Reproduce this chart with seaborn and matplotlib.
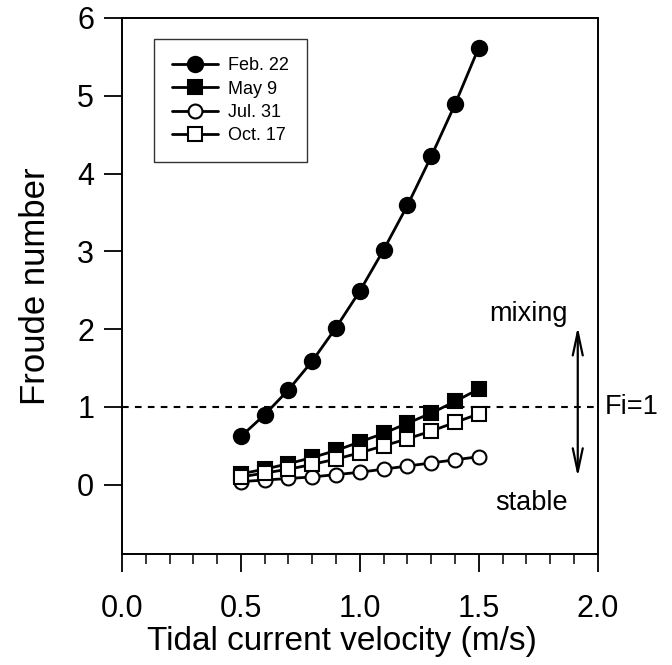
import matplotlib
matplotlib.use("Agg")
import matplotlib.pyplot as plt
import seaborn as sns
import pandas as pd
from matplotlib.ticker import MultipleLocator

sns.set_theme(style="white")
plt.rcParams['font.family'] = ['Liberation Sans', 'DejaVu Sans']
plt.rcParams['text.color'] = 'black'
plt.rcParams['axes.labelcolor'] = 'black'

velocity = [0.5, 0.6, 0.7, 0.8, 0.9, 1.0, 1.1, 1.2, 1.3, 1.4, 1.5]
feb22 = [0.62, 0.90, 1.22, 1.59, 2.02, 2.49, 3.02, 3.59, 4.22, 4.89, 5.62]
may9 = [0.14, 0.20, 0.27, 0.35, 0.44, 0.55, 0.66, 0.79, 0.92, 1.07, 1.23]
jul31 = [0.04, 0.06, 0.08, 0.10, 0.13, 0.16, 0.20, 0.24, 0.28, 0.32, 0.36]
oct17 = [0.10, 0.15, 0.20, 0.26, 0.33, 0.41, 0.50, 0.59, 0.69, 0.80, 0.91]
series_labels = ["Feb. 22", "May 9", "Jul. 31", "Oct. 17"]
x_ticks = [0.0, 0.5, 1.0, 1.5, 2.0]
y_ticks = [0, 1, 2, 3, 4, 5, 6]

fig = plt.figure(figsize=(6.72, 6.65), dpi=100)
ax = fig.add_axes([0.1815, 0.167, 0.708, 0.806])

styles = [
    dict(marker='o', markersize=11, markerfacecolor='black'),
    dict(marker='s', markersize=9.5, markerfacecolor='black'),
    dict(marker='o', markersize=10, markerfacecolor='white'),
    dict(marker='s', markersize=9.5, markerfacecolor='white'),
]
for vals, lab, st in zip([feb22, may9, jul31, oct17], series_labels, styles):
    df = pd.DataFrame({"v": velocity, "F": vals})
    sns.lineplot(data=df, x="v", y="F", ax=ax, color='black', linewidth=2.0,
                 markeredgecolor='black', markeredgewidth=1.5, label=lab, **st)

ax.axhline(1, color='black', lw=1.5, ls=(0, (3.2, 3.0)), zorder=0)
ax.annotate('', xy=(1.916, 2.03), xytext=(1.916, 0.10),
            arrowprops=dict(arrowstyle='<->,head_length=1.4,head_width=0.3',
                            lw=1.6, color='black', shrinkA=0, shrinkB=0))
ax.text(1.71, 2.2, 'mixing', ha='center', va='center', fontsize=19.5)
ax.text(1.72, -0.24, 'stable', ha='center', va='center', fontsize=19.5)
ax.text(2.03, 1.0, 'Fi=1', ha='left', va='center', fontsize=19.5, clip_on=False)

ax.set_xlim(0, 2.0)
ax.set_ylim(-0.89, 6)
ax.set_xticks(x_ticks)
ax.set_xticklabels([f"{t:.1f}" for t in x_ticks])
ax.xaxis.set_minor_locator(MultipleLocator(0.1))
ax.set_yticks(y_ticks)
ax.tick_params(axis='both', which='major', direction='out', length=13, width=1.3,
               labelsize=22, colors='black', bottom=True, left=True, top=False, right=False)
ax.tick_params(axis='x', which='major', pad=16)
ax.tick_params(axis='y', which='major', pad=7)
ax.tick_params(axis='x', which='minor', direction='out', length=7, width=1.3, bottom=True)
for s in ax.spines.values():
    s.set_color('black')
    s.set_linewidth(1.4)

ax.set_xlabel('Tidal current velocity (m/s)', fontsize=24, labelpad=1)
ax.xaxis.label.set_x(0.463)
ax.set_ylabel('Froude number', fontsize=25, labelpad=18)

leg = ax.legend(loc='upper left', bbox_to_anchor=(0.068, 0.96), fontsize=13,
                frameon=True, fancybox=False, edgecolor='black', handlelength=2.5,
                borderpad=1.0, labelspacing=0.35, handletextpad=0.6, borderaxespad=0)
leg.get_frame().set_linewidth(1.0)
for t in leg.get_texts():
    t.set_color('black')

fig.savefig('out.png', dpi=100)
